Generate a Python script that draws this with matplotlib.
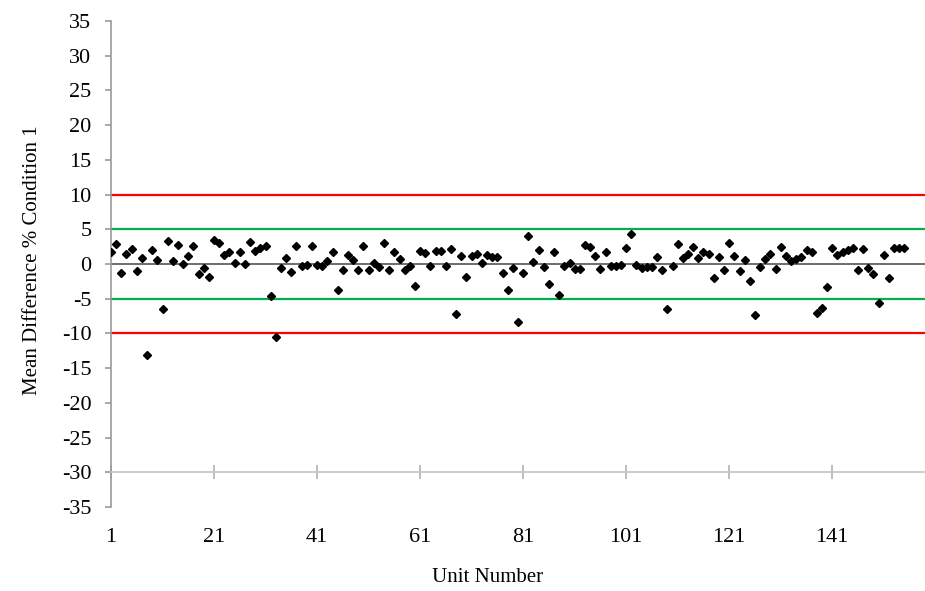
import numpy as np
import matplotlib.pyplot as plt

plt.rcParams['font.family'] = ['Liberation Serif', 'DejaVu Serif']

# mean difference (%) per unit, units 1..155
mean_diff = [
    1.67, 2.86, -1.33, 1.43, 2.14, -1.05, 0.81, -13.1, 1.95, 0.57,
    -6.43, 3.38, 0.48, 2.71, 0.0, 1.1, 2.57, -1.43, -0.57, -1.81,
    3.52, 3.1, 1.29, 1.71, 0.1, 1.67, 0.0, 3.24, 1.81, 2.24,
    2.62, -4.55, -10.45, -0.57, 0.81, -1.19, 2.62, -0.33, -0.14, 2.62,
    -0.1, -0.24, 0.43, 1.67, -3.81, -0.86, 1.29, 0.62, -0.86, 2.62,
    -0.86, 0.1, -0.48, 3.1, -0.86, 1.67, 0.71, -0.81, -0.24, -3.19,
    1.9, 1.57, -0.33, 1.9, 1.9, -0.33, 2.14, -7.24, 1.1, -1.86,
    1.1, 1.43, 0.14, 1.29, 1.0, 1.05, -1.24, -3.81, -0.62, -8.33,
    -1.33, 4.05, 0.33, 2.0, -0.48, -2.86, 1.67, -4.43, -0.33, 0.1,
    -0.71, -0.76, 2.71, 2.48, 1.19, -0.76, 1.67, -0.24, -0.24, -0.1,
    2.29, 4.29, -0.14, -0.62, -0.48, -0.48, 1.05, -0.81, -6.43, -0.24,
    2.86, 0.81, 1.43, 2.43, 0.81, 1.67, 1.43, -2.05, 1.05, -0.81,
    3.0, 1.1, -1.05, 0.62, -2.38, -7.29, -0.38, 0.71, 1.43, -0.76,
    2.5, 1.1, 0.38, 0.71, 1.05, 2.05, 1.76, -7.0, -6.29, -3.33,
    2.38, 1.29, 1.76, 2.0, 2.29, -0.81, 2.14, -0.62, -1.48, -5.57,
    1.29, -2.05, 2.29, 2.38, 2.29,
]
units = np.arange(1, len(mean_diff) + 1)

warn_limits = [5, -5]
action_limits = [10, -10]
x_ticks = [1, 21, 41, 61, 81, 101, 121, 141]
y_ticks = list(range(-35, 40, 5))

fig = plt.figure(figsize=(9.25, 5.91), dpi=100)
ax = fig.add_axes([0.12, 0.142, 0.88, 0.8225])

for v in action_limits:
    ax.axhline(v, color='#ff0000', lw=1.6, zorder=2)
for v in warn_limits:
    ax.axhline(v, color='#00b050', lw=1.6, zorder=2)
ax.axhline(0, color='#6e6e6e', lw=1.4, zorder=2)

ax.plot(units, mean_diff, 'D', color='black', ms=3.9, zorder=3)

ax.set_xlim(1, 159)
ax.set_ylim(-35, 35)

for s in ['top', 'right']:
    ax.spines[s].set_visible(False)
ax.spines['left'].set_color('#9a9a9a')
ax.spines['left'].set_linewidth(1.2)
ax.spines['bottom'].set_position(('data', -30))
ax.spines['bottom'].set_color('#c4c4c4')
ax.spines['bottom'].set_linewidth(1.2)

ax.set_yticks(y_ticks)
ax.set_yticklabels([str(t) for t in y_ticks])
ax.set_xticks(x_ticks)
ax.set_xticklabels([str(t) for t in x_ticks])
ax.tick_params(axis='y', direction='out', length=4, width=1.2,
               color='#9a9a9a', labelsize=16, pad=10)
ax.tick_params(axis='x', direction='inout', length=10, width=1.2,
               color='#b0b0b0', labelsize=16, pad=35)

ax.set_ylabel('Mean Difference % Condition 1', fontsize=15)
ax.yaxis.set_label_coords(-0.085, 0.508)
ax.set_xlabel('Unit Number', fontsize=15)
ax.xaxis.set_label_coords(0.462, -0.125)

fig.savefig('out.png', dpi=100)
